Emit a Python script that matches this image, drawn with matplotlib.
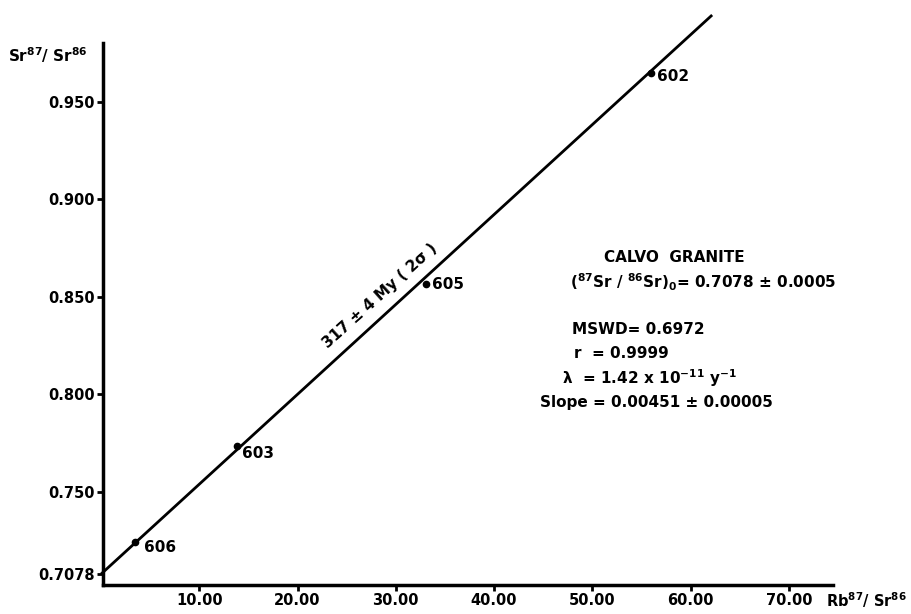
import matplotlib
matplotlib.use('Agg')
import matplotlib.pyplot as plt

plt.rcParams['font.family'] = ['DejaVu Sans']
plt.rcParams['font.weight'] = 'bold'
plt.rcParams['mathtext.default'] = 'bf'

# Samples (Rb87/Sr86, Sr87/Sr86)
sample_ids = ['606', '603', '605', '602']
rb_sr = [3.5, 13.8, 33.1, 56.0]
sr_sr = [0.7245, 0.7737, 0.8565, 0.9650]
label_offsets = [(6, -4), (4, -6), (4, 0), (4, -3)]

# isochron line end points
line_x = [0.0, 62.2]
line_y = [0.7078, 0.9945]

x_ticks = [10, 20, 30, 40, 50, 60, 70]
x_ticklabels = ['10.00', '20.00', '30.00', '40.00', '50.00', '60.00', '70.00']
y_ticks = [0.7078, 0.750, 0.800, 0.850, 0.900, 0.950]
y_ticklabels = ['0.7078', '0.750', '0.800', '0.850', '0.900', '0.950']

W, H = 911, 614
fig = plt.figure(figsize=(W / 100, H / 100), dpi=100)
ax = fig.add_axes([103 / W, 29 / H, 730 / W, 541.7 / H])

ax.plot(line_x, line_y, color='black', lw=2, solid_capstyle='butt', clip_on=False)
ax.plot(rb_sr, sr_sr, 'o', color='black', ms=4.5, clip_on=False)
for sid, x, y, off in zip(sample_ids, rb_sr, sr_sr, label_offsets):
    ax.annotate(sid, (x, y), xytext=off, textcoords='offset points',
                ha='left', va='center', fontsize=11, fontweight='bold')

ax.set_xlim(0.2, 74.5)
ax.set_ylim(0.7022, 0.980)
ax.set_xticks(x_ticks)
ax.set_xticklabels(x_ticklabels)
ax.set_yticks(y_ticks)
ax.set_yticklabels(y_ticklabels)
ax.tick_params(direction='out', length=4, width=2, labelsize=10.5, pad=2)
for s in ['top', 'right']:
    ax.spines[s].set_visible(False)
for s in ['left', 'bottom']:
    ax.spines[s].set_linewidth(2.5)

# axis titles
fig.text(8 / W, 1 - 55 / H, r'Sr$^{87}$/ Sr$^{86}$', fontsize=11,
         ha='left', va='center')
fig.text(907 / W, 1 - 600 / H, r'Rb$^{87}$/ Sr$^{86}$', fontsize=10.5,
         ha='right', va='center')

# age along the isochron
fig.text(380 / W, 1 - 296 / H, '317 ± 4 My ( 2σ )', fontsize=11,
         rotation=42, rotation_mode='anchor', ha='center', va='center')

# results block
fig.text(674 / W, 1 - 257 / H, 'CALVO  GRANITE', fontsize=11, ha='center', va='center')
fig.text(570 / W, 1 - 282 / H,
         r'$\left(^{87}Sr\ /\ ^{86}Sr\right)_0$= 0.7078 ± 0.0005',
         fontsize=11, ha='left', va='center')
fig.text(572 / W, 1 - 330 / H, 'MSWD= 0.6972', fontsize=11, ha='left', va='center')
fig.text(574 / W, 1 - 353 / H, 'r  = 0.9999', fontsize=11, ha='left', va='center')
fig.text(562 / W, 1 - 378 / H, r'$\lambda$  = 1.42 x 10$^{-11}$ y$^{-1}$',
         fontsize=11, ha='left', va='center')
fig.text(540 / W, 1 - 402 / H, 'Slope = 0.00451 ± 0.00005', fontsize=11,
         ha='left', va='center')

fig.savefig('out.png', dpi=100)
